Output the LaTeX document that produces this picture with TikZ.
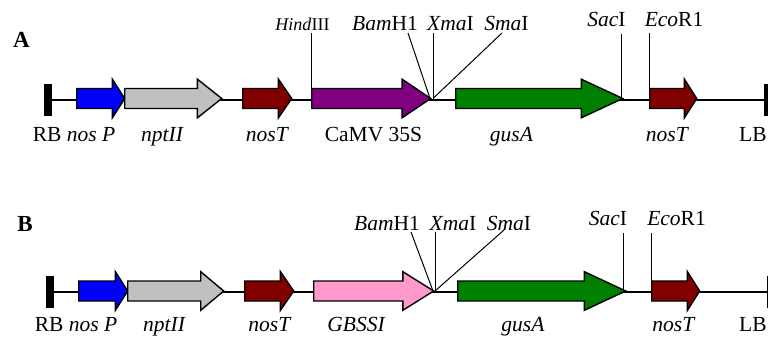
\documentclass[tikz,border=0pt]{standalone}
\usepackage{fontspec}
\setmainfont{Liberation Serif}
\usetikzlibrary{shapes.arrows}
\definecolor{nosblue}{RGB}{0,0,255}
\definecolor{nptgrey}{RGB}{192,192,192}
\definecolor{termred}{RGB}{128,0,0}
\definecolor{camvpurple}{RGB}{128,0,128}
\definecolor{gusgreen}{RGB}{0,128,0}
\definecolor{gbsspink}{RGB}{255,153,204}
\tikzset{
    gene/.style={
        single arrow,
        draw,
        line width=1.4pt,
        inner sep=0pt,
        inner ysep=9.3pt,
        single arrow head extend=9.3pt,
        single arrow head indent=0pt,
        minimum width=0pt,
        anchor=tail
    },
    border/.style={
        fill=black,
        inner sep=0pt,
        minimum width=8pt,
        minimum height=32pt
    },
    backbone/.style={
        line width=1.6pt
    },
    site/.style={
        line width=1pt
    },
    tag/.style={
        font=\fontsize{21.5}{24}\selectfont,
        inner sep=0pt,
        anchor=base
    },
    panel/.style={
        font=\fontsize{23}{26}\selectfont\bfseries,
        inner sep=0pt,
        anchor=base
    }
}

\begin{document}
\begin{tikzpicture}[x=1pt, y=-1pt]
    \useasboundingbox (0,0) rectangle (768,337);

    % construct A
    \node[panel] (panelA) at (21.5,48) {A};
    \node[border] (rbA) at (47.5,100) {};
    \node[border] (lbA) at (768,100) {};
    \draw[backbone] (rbA) -- (lbA);

    \coordinate (hindA) at (311,98.5);
    \coordinate (bamA) at (430,98.5);
    \coordinate (xmaA) at (433,98.5);
    \coordinate (sacA) at (621,98.5);
    \coordinate (ecoA) at (649,98.5);
    \coordinate (hindtopA) at (311,33);
    \coordinate (bamtopA) at (408,33);
    \coordinate (xmatopA) at (433,33);
    \coordinate (smatopA) at (502,33);
    \coordinate (sactopA) at (621,34);
    \coordinate (ecotopA) at (649,33);
    \draw[site] (hindtopA) -- (hindA);
    \draw[site] (bamtopA) -- (bamA);
    \draw[site] (xmatopA) -- (xmaA);
    \draw[site] (smatopA) -- (xmaA);
    \draw[site] (sactopA) -- (sacA);
    \draw[site] (ecotopA) -- (ecoA);

    \node[gene, fill=nosblue, minimum height=48pt, single arrow tip angle=115] (nospA) at (76,98.5) {};
    \node[gene, fill=nptgrey, minimum height=97pt, single arrow tip angle=77] (nptA) at (124,98.5) {};
    \node[gene, fill=termred, minimum height=49pt, single arrow tip angle=111] (nostA) at (242,98.5) {};
    \node[gene, fill=camvpurple, minimum height=119pt, single arrow tip angle=68] (camvA) at (311,98.5) {};
    \node[gene, fill=gusgreen, minimum height=167pt, single arrow tip angle=50] (gusA) at (455,98.5) {};
    \node[gene, fill=termred, minimum height=47pt, single arrow tip angle=115] (nostbA) at (649,98.5) {};

    \node[tag, font=\fontsize{18}{20}\selectfont] (hindtagA) at (302.5,30.5) {\textit{Hind}III};
    \node[tag] (bamtagA) at (385,31) {\textit{Bam}H1};
    \node[tag] (xmatagA) at (450.5,31) {\textit{Xma}I};
    \node[tag] (smatagA) at (506.5,31) {\textit{Sma}I};
    \node[tag] (sactagA) at (606.5,27) {\textit{Sac}I};
    \node[tag] (ecotagA) at (674,27) {\textit{Eco}R1};

    \node[tag] (rbtagA) at (74,141.5) {RB \textit{nos P}};
    \node[tag] (npttagA) at (162.5,141.5) {\textit{nptII}};
    \node[tag] (nosttagA) at (267.5,141.5) {\textit{nosT}};
    \node[tag] (camvtagA) at (373.5,141.5) {CaMV 35S};
    \node[tag] (gustagA) at (511.5,141.5) {\textit{gusA}};
    \node[tag] (nostbtagA) at (667.5,141.5) {\textit{nosT}};
    \node[tag, anchor=base west] (lbtagA) at (739,141.5) {LB};

    % construct B
    \node[panel] (panelB) at (25,231.5) {B};
    \node[border] (rbB) at (50,292) {};
    \node[border] (lbB) at (771,292) {};
    \draw[backbone] (rbB) -- (lbB);

    \coordinate (bamB) at (433,291);
    \coordinate (xmaB) at (435,291);
    \coordinate (sacB) at (623,291);
    \coordinate (ecoB) at (651,291);
    \coordinate (bamtopB) at (411,232);
    \coordinate (xmatopB) at (435,232);
    \coordinate (smatopB) at (504,230);
    \coordinate (sactopB) at (623,233);
    \coordinate (ecotopB) at (651,233);
    \draw[site] (bamtopB) -- (bamB);
    \draw[site] (xmatopB) -- (xmaB);
    \draw[site] (smatopB) -- (xmaB);
    \draw[site] (sactopB) -- (sacB);
    \draw[site] (ecotopB) -- (ecoB);

    \node[gene, fill=nosblue, minimum height=49pt, single arrow tip angle=115] (nospB) at (78,291) {};
    \node[gene, fill=nptgrey, minimum height=96pt, single arrow tip angle=80] (nptB) at (127,291) {};
    \node[gene, fill=termred, minimum height=49pt, single arrow tip angle=111] (nostB) at (244,291) {};
    \node[gene, fill=gbsspink, minimum height=120pt, single arrow tip angle=64] (gbssB) at (313,291) {};
    \node[gene, fill=gusgreen, minimum height=168pt, single arrow tip angle=50] (gusB) at (457,291) {};
    \node[gene, fill=termred, minimum height=48pt, single arrow tip angle=115] (nostbB) at (651,291) {};

    \node[tag] (bamtagB) at (387,230) {\textit{Bam}H1};
    \node[tag] (xmatagB) at (453,230) {\textit{Xma}I};
    \node[tag] (smatagB) at (509,230) {\textit{Sma}I};
    \node[tag] (sactagB) at (608,225) {\textit{Sac}I};
    \node[tag] (ecotagB) at (676.5,225) {\textit{Eco}R1};

    \node[tag] (rbtagB) at (76,331.5) {RB \textit{nos P}};
    \node[tag] (npttagB) at (164.5,331.5) {\textit{nptII}};
    \node[tag] (nosttagB) at (270,331.5) {\textit{nosT}};
    \node[tag] (gbsstagB) at (356.5,331.5) {\textit{GBSSI}};
    \node[tag] (gustagB) at (523,331.5) {\textit{gusA}};
    \node[tag] (nostbtagB) at (674,331.5) {\textit{nosT}};
    \node[tag, anchor=base west] (lbtagB) at (739,331.5) {LB};

\end{tikzpicture}
\end{document}
